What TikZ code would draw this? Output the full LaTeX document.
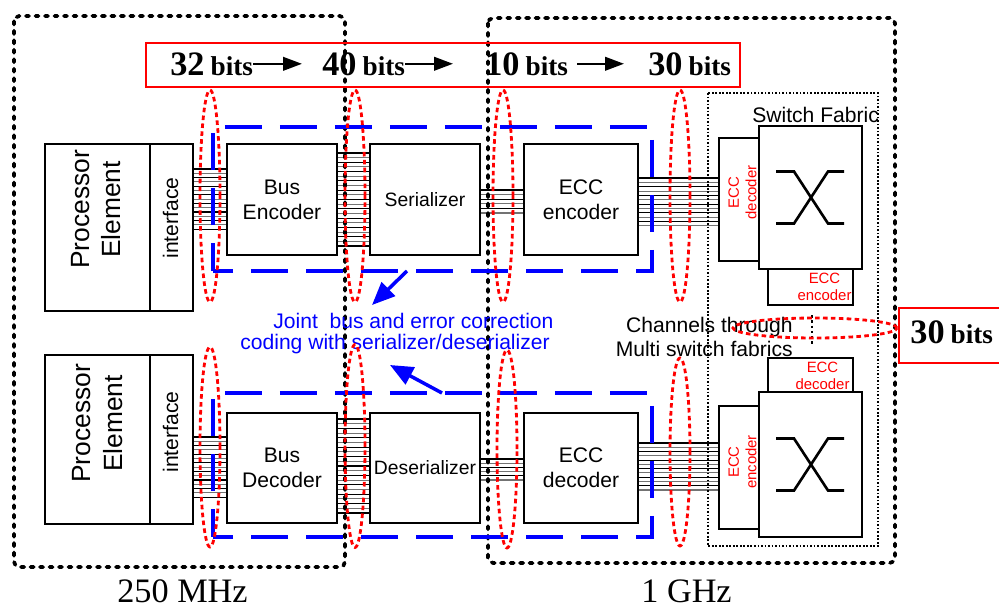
\documentclass[tikz,border=0pt]{standalone}
\usepackage{fontspec}
\setmainfont{Liberation Sans}
\newfontfamily\timesfont{Liberation Serif}
\usetikzlibrary{arrows.meta, calc}
\definecolor{jointblue}{RGB}{0,0,255}
\definecolor{bitred}{RGB}{255,0,0}
\tikzset{
  blk/.style={draw, line width=1.5pt, align=center, inner sep=1pt,
    font=\fontsize{12}{14.2}\selectfont},
  plainbox/.style={draw, line width=1.5pt, inner sep=0pt},
  petxt/.style={align=center, inner sep=0pt, font=\fontsize{15}{18}\selectfont},
  iftxt/.style={inner sep=0pt, font=\fontsize{12}{14}\selectfont},
  ecctxt/.style={text=bitred, align=center, inner sep=0pt, font=\fontsize{8.5}{10}\selectfont},
  wire/.style={line width=0.6pt},
  xsym/.style={line width=1.5pt},
  clkbox/.style={line width=2.1pt, line cap=round, dash pattern=on 1.8pt off 3.6pt, rounded corners=3pt},
  fabricbox/.style={line width=0.9pt, dash pattern=on 1pt off 1pt},
  ellbits/.style={draw=bitred, line width=1.6pt, dash pattern=on 2.6pt off 1.9pt},
  jointbox/.style={draw=jointblue, line width=2.3pt, dash pattern=on 0.74cm off 0.36cm},
  jointarrow/.style={-{Triangle[length=0.46cm, width=0.38cm]}, draw=jointblue, line width=2pt},
  bluetxt/.style={text=jointblue, inner sep=0pt, anchor=base west, font=\fontsize{12}{14}\selectfont},
  bitbox/.style={draw=bitred, line width=1.3pt},
  bitlbl/.style={inner sep=0pt, anchor=base west, font=\timesfont\bfseries},
  bitarrow/.style={-{Triangle[length=0.38cm, width=0.27cm]}, line width=1.4pt},
  clklbl/.style={inner sep=0pt, anchor=base, font=\timesfont\fontsize{19.5}{22}\selectfont}
}
\newcommand{\nbits}[1]{{\fontsize{19.5}{20}\selectfont #1}\kern0.12cm{\fontsize{15.5}{16}\selectfont bits}}
% parallel wires of a bus: from node, to node, first y, step, last index
\newcommand{\wirebus}[5]{%
  \foreach \k [evaluate=\k as \wy using {#3+#4*\k},
               evaluate=\k as \wc using {int(100-45*mod(\k,2))}] in {0,...,#5}
    \draw[wire, draw=black!\wc] (#1.east |- 0,\wy) -- (#2.west |- 0,\wy);%
}

\begin{document}
\begin{tikzpicture}[x=0.02cm, y=-0.02cm]
  \useasboundingbox (0,0) rectangle (999,608);

  % Upper path: processor to switch fabric
  \node[plainbox, minimum width=2.1cm, minimum height=3.34cm] (pe1) at (97.5,227.5) {};
  \node[petxt, rotate=90] (pe1t) at ([shift={(-1.5,-18)}]pe1.center) {Processor\\Element};
  \node[plainbox, minimum width=0.86cm, minimum height=3.34cm] (if1) at (171.5,227.5) {};
  \node[iftxt, rotate=90] (if1t) at ([shift={(-1,-9.5)}]if1.center) {interface};
  \node[blk, minimum width=2.2cm, minimum height=2.22cm] (benc) at (282,199.5) {Bus\\Encoder};
  \node[blk, minimum width=2.2cm, minimum height=2.22cm, font=\fontsize{11}{13}\selectfont] (ser) at (425,199.5) {Serializer};
  \node[blk, minimum width=2.28cm, minimum height=2.22cm] (eenc) at (581,199.5) {ECC\\encoder};

  \node[plainbox, minimum width=0.8cm, minimum height=2.46cm] (dec1) at (739,199.5) {};
  \node[ecctxt, rotate=90] (dec1t) at ([shift={(3.5,-7)}]dec1.center) {ECC\\decoder};
  \node[plainbox, minimum width=2.06cm, minimum height=2.86cm] (sw1) at (810.5,197.5) {};
  \node[plainbox, minimum width=1.7cm, minimum height=0.72cm] (enc1) at (810.5,287) {};
  \node[ecctxt] (enc1t) at ([shift={(14,0)}]enc1.center) {ECC\\encoder};

  % Lower path
  \node[plainbox, minimum width=2.1cm, minimum height=3.38cm] (pe2) at (97.5,439.5) {};
  \node[petxt, rotate=90] (pe2t) at ([shift={(0,-16)}]pe2.center) {Processor\\Element};
  \node[plainbox, minimum width=0.86cm, minimum height=3.38cm] (if2) at (171.5,439.5) {};
  \node[iftxt, rotate=90] (if2t) at ([shift={(-1,-7.5)}]if2.center) {interface};
  \node[blk, minimum width=2.2cm, minimum height=2.2cm] (bdec) at (282,468) {Bus\\Decoder};
  \node[blk, minimum width=2.2cm, minimum height=2.2cm, font=\fontsize{11}{13}\selectfont] (des) at (425,468) {Deserializer};
  \node[blk, minimum width=2.28cm, minimum height=2.2cm] (edec) at (581,468) {ECC\\decoder};

  \node[plainbox, minimum width=1.7cm, minimum height=0.68cm] (dec2) at (810.5,375) {};
  \node[ecctxt] (dec2t) at ([shift={(12,1)}]dec2.center) {ECC\\decoder};
  \node[plainbox, minimum width=2.06cm, minimum height=2.9cm] (sw2) at (810.5,464.5) {};
  \node[plainbox, minimum width=0.8cm, minimum height=2.46cm] (enc2) at (739,467.5) {};
  \node[ecctxt, rotate=90] (enc2t) at ([shift={(3.5,-5.5)}]enc2.center) {ECC\\encoder};

  % Crossbar symbols
  \foreach \s in {sw1, sw2} {
    \draw[xsym] ([shift={(-34.5,-26)}]\s.center) -- ++(18,0) -- ++(34,52) -- ++(16,0);
    \draw[xsym] ([shift={(-34.5,26)}]\s.center) -- ++(18,0) -- ++(34,-52) -- ++(16,0);
  }

  % Buses
  \wirebus{if1}{benc}{169}{4.3}{14}
  \wirebus{benc}{ser}{153}{4.65}{20}
  \wirebus{ser}{eenc}{190}{4.6}{5}
  \wirebus{eenc}{dec1}{178}{4.36}{11}
  \wirebus{if2}{bdec}{437}{4.3}{14}
  \wirebus{bdec}{des}{419}{4.7}{20}
  \wirebus{des}{edec}{459}{4.2}{5}
  \wirebus{edec}{enc2}{443}{4.27}{11}

  % Switch fabric
  \draw[fabricbox] (708,93) rectangle (878,546);
  \node[anchor=base west, inner sep=0pt, font=\fontsize{12}{14}\selectfont] (swlbl) at (752,122) {Switch Fabric};
  \node[anchor=east, align=right, inner sep=0pt, font=\fontsize{12}{13.6}\selectfont] (chan) at (793,337) {Channels through\\Multi switch fabrics};
  \coordinate (fab1) at (812,315);
  \coordinate (fab2) at (812,345);
  \draw[line width=1pt, dash pattern=on 1.5pt off 1.5pt] (fab1) -- (fab2);

  % Clock domains
  \draw[clkbox] (14,16) rectangle (345,567);
  \draw[clkbox] (488,18) rectangle (895,563);
  \node[clklbl] (f250) at (182.5,602) {250 MHz};
  \node[clklbl] (f1g) at (686.5,602) {1 GHz};

  % Joint coding boxes
  \draw[jointbox, dash phase=0.18cm] (213,271) -- (213,127) -- (652,127) -- (652,271) -- cycle;
  \draw[jointbox, dash phase=0.18cm] (213,537) -- (213,393) -- (652,393) -- (652,537) -- cycle;
  \node[bluetxt] (jnt1) at (273,328) {Joint\ \ bus and error correction};
  \node[bluetxt] (jnt2) at (240,349) {coding with serializer/deserializer};
  \coordinate (jtop) at (407,271);
  \coordinate (jtip1) at (372,305);
  \coordinate (jbot) at (442,393);
  \coordinate (jtip2) at (390,365);
  \draw[jointarrow] (jtop) -- (jtip1);
  \draw[jointarrow] (jbot) -- (jtip2);

  % Bit widths
  \foreach \ex/\ey/\ry in {210/196/2.12, 355/196/2.12, 503/196/2.12, 680/196/2.12,
                           210/447/2.0, 355/446/2.03, 507/449/1.98, 680/452/1.88}
    \draw[ellbits] (\ex,\ey) ellipse [x radius=0.2cm, y radius=\ry cm];
  \draw[ellbits] (815,328) ellipse [x radius=1.64cm, y radius=0.2cm];

  \draw[bitbox] (146,43) rectangle (740,87);
  \node[bitlbl] (b32) at (170,75) {\nbits{32}};
  \node[bitlbl] (b40) at (322,75) {\nbits{40}};
  \node[bitlbl] (b10) at (485,75) {\nbits{10}};
  \node[bitlbl] (b30) at (648,75) {\nbits{30}};
  \draw[bitarrow, shorten >=0.4cm] (b32.east) -- (b32.east -| b40.west);
  \draw[bitarrow, shorten >=0.64cm] (b40.east) -- (b40.east -| b10.west);
  \draw[bitarrow, shorten <=0.18cm, shorten >=0.48cm] (b10.east) -- (b10.east -| b30.west);

  \draw[bitbox] (899,308) rectangle (1012,363);
  \node[bitlbl] (b30r) at (910,343) {\nbits{30}};
\end{tikzpicture}
\end{document}
